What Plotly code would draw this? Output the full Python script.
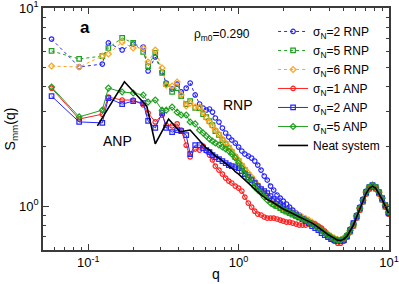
import plotly.graph_objects as go

# ---------------- data ----------------
q_low = [0.057, 0.087, 0.124, 0.136, 0.168, 0.199, 0.232, 0.250, 0.279, 0.310,
         0.330, 0.361, 0.390, 0.415, 0.448, 0.476, 0.514]
q_high = [0.55, 0.58, 0.61, 0.64, 0.67, 0.70, 0.74, 0.78, 0.82, 0.86, 0.90, 0.95,
          1.00, 1.05, 1.10, 1.16, 1.22, 1.28, 1.34, 1.41, 1.48, 1.55, 1.63, 1.71,
          1.80, 1.89, 1.98, 2.08, 2.18, 2.29, 2.41, 2.53, 2.66, 2.79, 2.93, 3.08,
          3.23, 3.39, 3.56, 3.74, 3.93, 4.12, 4.33, 4.55, 4.77, 5.01, 5.26, 5.52,
          5.80, 6.09, 6.39, 6.71, 7.05, 7.40, 7.77, 8.16, 8.57, 9.00, 9.45, 9.92]

rnp2_low = [6.97, 5.04, 5.21, 6.66, 6.14, 6.58, 6.35, 4.81, 5.66, 4.75, 4.18, 3.90, 4.13, 3.77, 3.94, 4.18, 3.64]
rnp2_high = [3.275, 3.126, 3.054, 3.090, 2.984, 2.783, 2.656, 2.477, 2.338, 2.231, 2.154, 2.081,
             1.986, 1.896, 1.831, 1.789, 1.748, 1.688, 1.611, 1.520, 1.418, 1.353, 1.262, 1.205,
             1.137, 1.097, 1.060, 1.024, 0.988, 0.954, 0.922, 0.901, 0.865, 0.850, 0.830, 0.811,
             0.792, 0.770, 0.748, 0.730, 0.710, 0.693, 0.681, 0.673, 0.673, 0.689, 0.714, 0.765,
             0.821, 0.901, 0.988, 1.085, 1.191, 1.247, 1.276, 1.247, 1.177, 1.085, 1.000, 0.911]

rnp5_low = [6.07, 5.53, 5.72, 6.28, 7.06, 6.66, 6.00, 5.09, 5.93, 4.70, 4.13, 3.77, 3.94, 3.59, 3.27, 3.39, 3.13]
rnp5_high = [3.126, 2.915, 2.815, 2.687, 2.565, 2.392, 2.284, 2.154, 2.056, 1.963, 1.874, 1.768,
             1.688, 1.592, 1.520, 1.434, 1.369, 1.307, 1.247, 1.191, 1.150, 1.110, 1.072, 1.024,
             1.000, 0.977, 0.954, 0.938, 0.922, 0.906, 0.890, 0.875, 0.860, 0.845, 0.830, 0.811,
             0.792, 0.774, 0.752, 0.730, 0.710, 0.693, 0.681, 0.669, 0.665, 0.677, 0.701, 0.743,
             0.797, 0.875, 0.960, 1.054, 1.157, 1.226, 1.255, 1.226, 1.157, 1.079, 0.994, 0.917]

rnp6_low = [5.09, 5.04, 5.72, 5.86, 6.74, 6.28, 6.28, 5.34, 6.14, 4.98, 4.08, 4.04, 4.23, 3.64, 3.20, 3.31, 3.16]
rnp6_high = [3.162, 2.984, 2.783, 2.656, 2.536, 2.420, 2.310, 2.180, 2.081, 1.986, 1.896, 1.789,
             1.708, 1.611, 1.538, 1.468, 1.401, 1.337, 1.276, 1.219, 1.163, 1.123, 1.085, 1.048,
             1.024, 1.000, 0.977, 0.960, 0.943, 0.927, 0.911, 0.895, 0.880, 0.865, 0.850, 0.830,
             0.811, 0.788, 0.765, 0.743, 0.722, 0.705, 0.689, 0.677, 0.673, 0.685, 0.710, 0.752,
             0.806, 0.885, 0.971, 1.066, 1.170, 1.240, 1.269, 1.240, 1.170, 1.091, 1.006, 0.927]

anp1_low = [3.94, 2.75, 2.91, 3.55, 3.43, 3.43, 3.24, 2.95, 2.66, 2.88, 2.56, 2.54, 2.60, 2.42, 2.03, 1.77, 1.94]
anp1_high = [1.918, 2.009, 1.896, 1.810, 1.708, 1.592, 1.520, 1.451, 1.385, 1.337, 1.307, 1.262,
             1.233, 1.191, 1.110, 1.036, 0.988, 0.943, 0.911, 0.901, 0.880, 0.870, 0.870, 0.870,
             0.860, 0.850, 0.840, 0.830, 0.830, 0.821, 0.811, 0.802, 0.802, 0.802, 0.811, 0.821,
             0.811, 0.792, 0.774, 0.748, 0.714, 0.689, 0.665, 0.650, 0.650, 0.665, 0.697, 0.739,
             0.792, 0.870, 0.954, 1.048, 1.150, 1.219, 1.247, 1.219, 1.150, 1.072, 0.988, 0.911]

anp2_low = [3.59, 2.66, 2.63, 3.51, 3.27, 3.39, 3.31, 2.69, 2.48, 2.95, 2.48, 2.36, 2.42, 2.39, 2.28, 1.83, 2.03]
anp2_high = [2.033, 1.963, 1.918, 1.874, 1.810, 1.768, 1.727, 1.688, 1.649, 1.611, 1.592, 1.574,
             1.556, 1.502, 1.451, 1.401, 1.353, 1.307, 1.262, 1.219, 1.191, 1.163, 1.123, 1.085,
             1.060, 1.024, 1.000, 0.966, 0.943, 0.922, 0.901, 0.880, 0.860, 0.840, 0.821, 0.792,
             0.774, 0.756, 0.730, 0.714, 0.697, 0.681, 0.673, 0.665, 0.665, 0.673, 0.705, 0.756,
             0.821, 0.890, 0.977, 1.072, 1.177, 1.247, 1.276, 1.247, 1.177, 1.097, 1.012, 0.933]

anp5_low = [3.99, 2.82, 3.05, 3.94, 3.77, 3.72, 3.64, 3.35, 3.43, 3.05, 3.05, 3.16, 2.98, 2.88, 2.88, 2.66, 2.60]
anp5_high = [2.420, 2.338, 2.257, 2.180, 2.130, 2.081, 2.033, 1.986, 1.941, 1.896, 1.831, 1.748,
             1.649, 1.556, 1.468, 1.385, 1.307, 1.247, 1.205, 1.163, 1.110, 1.072, 1.036, 1.012,
             1.000, 0.977, 0.954, 0.943, 0.922, 0.911, 0.890, 0.880, 0.860, 0.850, 0.830, 0.811,
             0.792, 0.774, 0.756, 0.730, 0.714, 0.697, 0.681, 0.673, 0.673, 0.681, 0.714, 0.756,
             0.811, 0.890, 0.977, 1.072, 1.177, 1.247, 1.276, 1.247, 1.177, 1.097, 1.012, 0.933]

neat_q_low = [0.115, 0.174, 0.245, 0.279, 0.342, 0.408, 0.476]
neat_low = [2.54, 4.24, 3.20, 2.06, 2.75, 2.37, 2.42]
neat_high = [2.15, 2.06, 1.96, 1.92, 1.85, 1.79, 1.75, 1.69, 1.65, 1.59, 1.56, 1.49,
             1.45, 1.40, 1.35, 1.31, 1.26, 1.22, 1.18, 1.14, 1.11, 1.08, 1.06, 1.035,
             1.01, 0.988, 0.966, 0.949, 0.933, 0.916, 0.900, 0.885, 0.870, 0.855, 0.840, 0.820,
             0.802, 0.783, 0.761, 0.739, 0.718, 0.701, 0.685, 0.673, 0.670, 0.681, 0.705, 0.748,
             0.802, 0.880, 0.966, 1.06, 1.16, 1.23, 1.26, 1.23, 1.16, 1.08, 1.00, 0.922]

labels = ["σ<sub>N</sub>=2 RNP", "σ<sub>N</sub>=5 RNP", "σ<sub>N</sub>=6 RNP",
          "σ<sub>N</sub>=1 ANP", "σ<sub>N</sub>=2 ANP", "σ<sub>N</sub>=5 ANP", "Neat system"]

# ---------------- figure ----------------
FONT = "Liberation Sans, Arial, sans-serif"
BLUE, GREEN, ORANGE, RED = "#2525ff", "#1fa01f", "#ffa51f", "#ff2020"

q_all = q_low + q_high
series = [
    (labels[0], rnp2_low + rnp2_high, BLUE, "circle-open", "dot"),
    (labels[1], rnp5_low + rnp5_high, GREEN, "square-open", "dot"),
    (labels[2], rnp6_low + rnp6_high, ORANGE, "diamond-open", "dot"),
    (labels[3], anp1_low + anp1_high, RED, "circle-open", "solid"),
    (labels[4], anp2_low + anp2_high, BLUE, "square-open", "solid"),
    (labels[5], anp5_low + anp5_high, GREEN, "diamond-open", "solid"),
]

fig = go.Figure()
for name, s, col, sym, dash in series:
    fig.add_trace(go.Scatter(
        x=q_all, y=s, name=name, mode="lines+markers",
        line=dict(color=col, width=1, dash=dash),
        marker=dict(symbol=sym, size=4.5, color=col, line=dict(width=1.2, color=col)),
    ))
fig.add_trace(go.Scatter(
    x=neat_q_low + q_high, y=neat_low + neat_high, name=labels[6], mode="lines",
    line=dict(color="black", width=1.6),
))

xminor = [0.06, 0.07, 0.08, 0.09, 0.2, 0.3, 0.4, 0.5, 0.6, 0.7, 0.8, 0.9,
          2, 3, 4, 5, 6, 7, 8, 9]
yminor = [0.7, 0.8, 0.9, 2, 3, 4, 5, 6, 7, 8, 9]
axcommon = dict(
    type="log", showgrid=False, zeroline=False, showline=True, linecolor="#3a3a3a",
    linewidth=1.5, mirror="ticks", ticks="inside", ticklen=6, tickwidth=1,
    tickcolor="#3a3a3a", tickfont=dict(family=FONT, size=13, color="black"),
    automargin=False, ticklabeloverflow="allow",
)
fig.update_xaxes(**axcommon, range=[-1.30103, 1.0],
                 tickvals=[0.1, 1, 10], ticktext=["10<sup>-1</sup>", "10<sup>0</sup>", "10<sup>1</sup>"],
                 minor=dict(ticks="inside", ticklen=3, tickcolor="#3a3a3a", tickvals=xminor),
                 title=dict(text="q", font=dict(family=FONT, size=14, color="black"), standoff=0))
fig.update_yaxes(**axcommon, range=[-0.2218, 1.0],
                 tickvals=[1, 10], ticktext=["10<sup>0</sup>", "10<sup>1</sup>"],
                 minor=dict(ticks="inside", ticklen=3, tickcolor="#3a3a3a", tickvals=yminor),
                 title=dict(text="S<sub>mm</sub>(q)", font=dict(family=FONT, size=14, color="black"), standoff=0))

fig.update_layout(
    width=399, height=284,
    margin=dict(l=43, r=10, t=8, b=34),
    paper_bgcolor="white", plot_bgcolor="white",
    font=dict(family=FONT, color="black"),
    showlegend=True,
    legend=dict(x=0.665, y=0.963, xanchor="left", yanchor="top",
                bgcolor="rgba(255,255,255,0)", font=dict(family=FONT, size=12),
                itemwidth=30, tracegroupgap=0),
)
fig.add_annotation(x=0.12, y=0.92, xref="paper", yref="paper", text="<b>a</b>",
                   showarrow=False, font=dict(family=FONT, size=17, color="black"),
                   xanchor="center", yanchor="middle")
fig.add_annotation(x=0.517, y=0.888, xref="paper", yref="paper", text="ρ<sub>m0</sub>=0.290",
                   showarrow=False, font=dict(family=FONT, size=12, color="black"),
                   xanchor="center", yanchor="middle")
fig.add_annotation(x=0.564, y=0.599, xref="paper", yref="paper", text="RNP",
                   showarrow=False, font=dict(family=FONT, size=14, color="black"),
                   xanchor="center", yanchor="middle")
fig.add_annotation(x=0.214, y=0.45, xref="paper", yref="paper", text="ANP",
                   showarrow=False, font=dict(family=FONT, size=14, color="black"),
                   xanchor="center", yanchor="middle")

fig.write_html("out.html", config={"displayModeBar": False},
               post_script="document.body.style.margin='0';")
